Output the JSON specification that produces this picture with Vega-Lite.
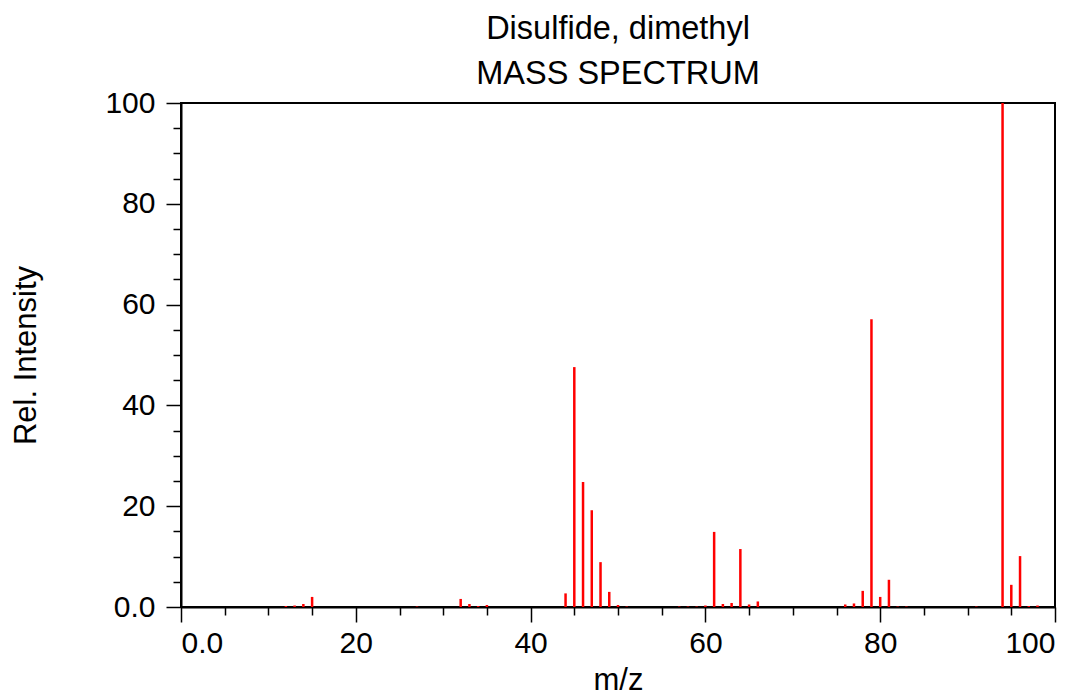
{
  "$schema": "https://vega.github.io/schema/vega-lite/v6.json",
  "width": 874,
  "height": 504,
  "autosize": {"type": "none"},
  "padding": {"left": 181, "top": 103, "right": 29, "bottom": 89},
  "background": "white",
  "config": {
    "font": "Liberation Sans",
    "view": {"stroke": "black", "strokeWidth": 2},
    "axis": {"grid": false, "domainColor": "black", "domainWidth": 2, "tickColor": "black", "tickWidth": 1.5, "labelColor": "black", "titleColor": "black", "labelFontSize": 30, "titleFontSize": 31, "titleFontWeight": "normal", "labelFont": "Liberation Sans", "titleFont": "Liberation Sans"}
  },
  "title": {
    "text": ["Disulfide, dimethyl", "MASS SPECTRUM"],
    "fontSize": 32.5,
    "fontWeight": "normal",
    "font": "Liberation Sans",
    "color": "black",
    "lineHeight": 45,
    "anchor": "middle",
    "offset": -2
  },
  "data": {
    "values": [
      {"mz": 12, "intensity": 0.2},
      {"mz": 13, "intensity": 0.3},
      {"mz": 14, "intensity": 0.6},
      {"mz": 15, "intensity": 2.0},
      {"mz": 27, "intensity": 0.1},
      {"mz": 32, "intensity": 1.6},
      {"mz": 33, "intensity": 0.6},
      {"mz": 34, "intensity": 0.2},
      {"mz": 35, "intensity": 0.4},
      {"mz": 44, "intensity": 2.7},
      {"mz": 45, "intensity": 47.6},
      {"mz": 46, "intensity": 24.8},
      {"mz": 47, "intensity": 19.2},
      {"mz": 48, "intensity": 8.9},
      {"mz": 49, "intensity": 3.0},
      {"mz": 50, "intensity": 0.4},
      {"mz": 51, "intensity": 0.1},
      {"mz": 57, "intensity": 0.1},
      {"mz": 58, "intensity": 0.1},
      {"mz": 59, "intensity": 0.1},
      {"mz": 60, "intensity": 0.3},
      {"mz": 61, "intensity": 14.9},
      {"mz": 62, "intensity": 0.6},
      {"mz": 63, "intensity": 0.8},
      {"mz": 64, "intensity": 11.5},
      {"mz": 65, "intensity": 0.5},
      {"mz": 66, "intensity": 1.1},
      {"mz": 76, "intensity": 0.5},
      {"mz": 77, "intensity": 0.7},
      {"mz": 78, "intensity": 3.2},
      {"mz": 79, "intensity": 57.1},
      {"mz": 80, "intensity": 2.0},
      {"mz": 81, "intensity": 5.4},
      {"mz": 82, "intensity": 0.1},
      {"mz": 83, "intensity": 0.1},
      {"mz": 91, "intensity": 0.1},
      {"mz": 94, "intensity": 100},
      {"mz": 95, "intensity": 4.4},
      {"mz": 96, "intensity": 10.1},
      {"mz": 97, "intensity": 0.2},
      {"mz": 98, "intensity": 0.3}
    ]
  },
  "mark": {"type": "rule", "color": "#ff0000", "strokeWidth": 2.5},
  "encoding": {
    "x": {
      "field": "mz",
      "type": "quantitative",
      "scale": {"domain": [0, 100], "nice": false, "zero": false},
      "axis": {
        "title": "m/z",
        "values": [0, 5, 10, 15, 20, 25, 30, 35, 40, 45, 50, 55, 60, 65, 70, 75, 80, 85, 90, 95, 100],
        "labelExpr": "datum.value % 20 === 0 ? (datum.value === 0 ? '0.0' : datum.label) : ''",
        "tickSize": {"condition": {"test": "datum.value % 20 === 0", "value": 15}, "value": 8},
        "labelPadding": 6,
        "labelOverlap": false,
        "titleY": 82,
        "titleBaseline": "alphabetic"
      }
    },
    "y": {
      "field": "intensity",
      "type": "quantitative",
      "scale": {"domain": [0, 100], "nice": false},
      "axis": {
        "title": "Rel. Intensity",
        "values": [0, 5, 10, 15, 20, 25, 30, 35, 40, 45, 50, 55, 60, 65, 70, 75, 80, 85, 90, 95, 100],
        "labelExpr": "datum.value % 20 === 0 ? (datum.value === 0 ? '0.0' : datum.label) : ''",
        "tickSize": {"condition": {"test": "datum.value % 20 === 0", "value": 15}, "value": 8},
        "labelPadding": 11,
        "labelOverlap": false,
        "titleAngle": -90,
        "titleX": -155,
        "titleY": 252,
        "titleAlign": "center",
        "titleBaseline": "middle"
      }
    },
    "y2": {"datum": 0}
  }
}
